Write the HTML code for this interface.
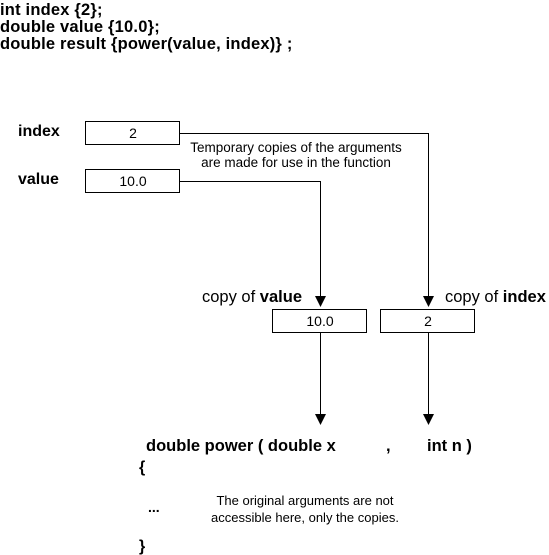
<!DOCTYPE html>
<html><head><style>
body{margin:0;width:549px;height:555px;background:#fff;position:relative;overflow:hidden;font-family:"Liberation Sans",sans-serif;color:#000}
.t{position:absolute;white-space:nowrap;line-height:1}
.b{font-weight:bold}
</style></head><body>
<div class="t b" style="left:0;top:2px;font-size:16.5px;line-height:17px;letter-spacing:0.2px">int index {2};<br>double value {10.0};<br>double result {power(value, index)} ;</div>
<div class="t b" style="left:18px;top:124px;font-size:16px">index</div>
<div class="t b" style="left:18px;top:172px;font-size:16px">value</div>
<div class="t" style="left:186px;top:140px;font-size:13.5px;text-align:center;line-height:15px;width:220px">Temporary copies of the arguments<br>are made for use in the function</div>
<div class="t" style="left:202px;top:289px;font-size:16.5px">copy of <b>value</b></div>
<div class="t" style="left:445px;top:289px;font-size:16.5px">copy of <b>index</b></div>
<svg width="549" height="555" style="position:absolute;left:0;top:0">
<g fill="#fff" stroke="#000" stroke-width="1">
<rect x="85.5" y="121.5" width="94" height="23"/>
<rect x="85.5" y="169.5" width="94" height="23"/>
<rect x="272.5" y="309.5" width="94" height="23"/>
<rect x="380.5" y="309.5" width="94" height="23"/>
</g>
<g fill="none" stroke="#000" stroke-width="1">
<polyline points="180,133.5 428.5,133.5 428.5,300"/>
<polyline points="180,181.5 320.5,181.5 320.5,300"/>
<line x1="320.5" y1="333" x2="320.5" y2="416"/>
<line x1="428.5" y1="333" x2="428.5" y2="416"/>
</g>
<g fill="#000">
<polygon points="315,296 326,296 320.5,307"/>
<polygon points="423,296 434,296 428.5,307"/>
<polygon points="315,414 326,414 320.5,425"/>
<polygon points="423,414 434,414 428.5,425"/>
</g>
<g font-family="Liberation Sans, sans-serif" font-size="14" text-anchor="middle">
<text x="133" y="138">2</text>
<text x="133" y="186">10.0</text>
<text x="320" y="326">10.0</text>
<text x="428" y="326">2</text>
</g>
</svg>
<div class="t b" style="left:146px;top:438px;font-size:16.5px">double power ( double x</div>
<div class="t b" style="left:386px;top:438px;font-size:16.5px">,</div>
<div class="t b" style="left:427px;top:438px;font-size:16.5px">int n )</div>
<div class="t b" style="left:139px;top:460px;font-size:16px">{</div>
<div class="t b" style="left:148px;top:500px;font-size:14px">...</div>
<div class="t" style="left:200px;top:492px;font-size:13px;text-align:center;line-height:17px;width:210px">The original arguments are not<br>accessible here, only the copies.</div>
<div class="t b" style="left:139px;top:539px;font-size:16px">}</div>
</body></html>
